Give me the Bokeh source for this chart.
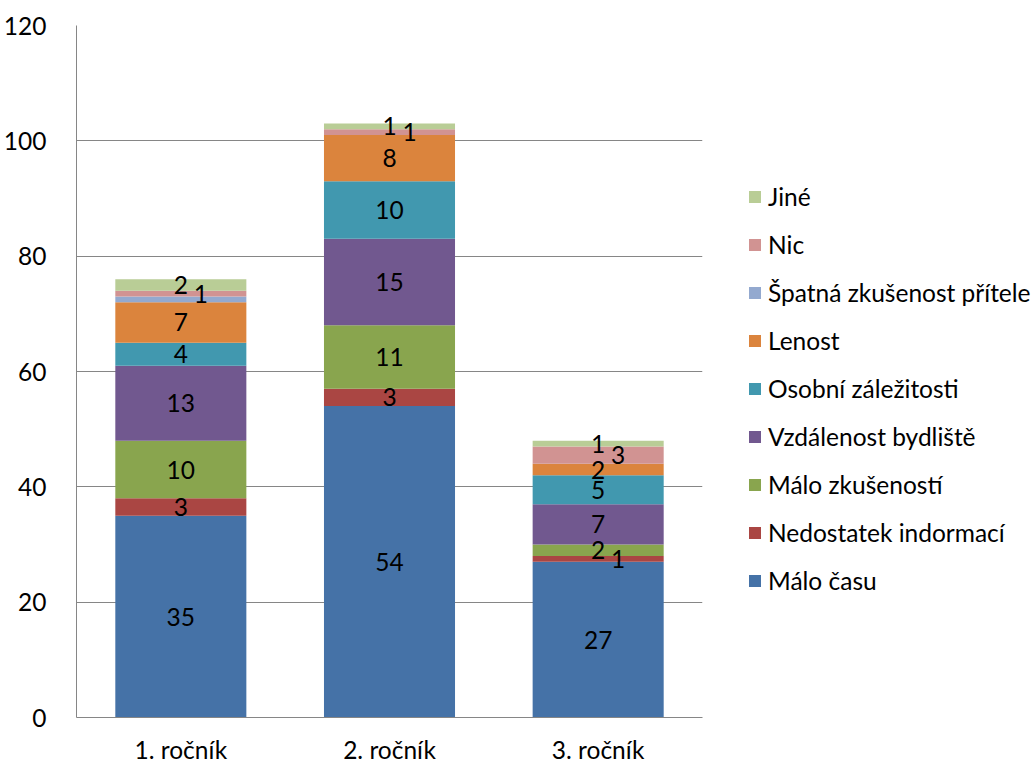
from bokeh.plotting import figure
from bokeh.models import ColumnDataSource, FactorRange, Legend, LegendItem, Range1d, SingleIntervalTicker
from bokeh.core.properties import value
from bokeh.embed import file_html
from bokeh.resources import INLINE

categories = ["1. ročník", "2. ročník", "3. ročník"]
series = ["Málo času", "Nedostatek indormací", "Málo zkušeností", "Vzdálenost bydliště",
          "Osobní záležitosti", "Lenost", "Špatná zkušenost přítele", "Nic", "Jiné"]
malo_casu = [35, 54, 27]
nedostatek = [3, 3, 1]
malo_zkusenosti = [10, 11, 2]
vzdalenost = [13, 15, 7]
osobni = [4, 10, 5]
lenost = [7, 8, 2]
spatna = [1, 0, 0]
nic = [1, 1, 3]
jine = [2, 1, 1]
values = [malo_casu, nedostatek, malo_zkusenosti, vzdalenost, osobni, lenost, spatna, nic, jine]
colors = ["#4572A7", "#AA4643", "#89A54E", "#71588F", "#4198AF", "#DB843D", "#93A9CF", "#D19392", "#B9CD96"]

FONT = "Lato"
FS = "24.5px"
SHIFT = 20        # px offset used to move a colliding label sideways
MIN_GAP = 3.0     # data units between labels before they are considered colliding

data = {"cat": categories}
keys = []
for i, v in enumerate(values):
    k = f"s{i}"
    keys.append(k)
    data[k] = v
src = ColumnDataSource(data)

p = figure(x_range=FactorRange(*categories, range_padding=0), y_range=Range1d(0, 120),
           frame_width=626, frame_height=692, output_backend="svg", toolbar_location=None,
           min_border_left=74, min_border_right=0, min_border_top=25, min_border_bottom=0)
p.outline_line_color = None
p.background_fill_color = "white"

renderers = p.vbar_stack(keys, x="cat", width=0.628, color=colors, line_color=None, source=src)

# data labels, placed top-down with simple collision avoidance
placed = {j: [] for j in range(len(categories))}
lab = {0: ([], [], []), SHIFT: ([], [], [])}
for i in reversed(range(len(values))):
    v = values[i]
    for j, c in enumerate(categories):
        if v[j] <= 0:
            continue
        base = sum(values[k][j] for k in range(i))
        yc = base + v[j] / 2
        for off in (0, SHIFT):
            if all(not (o == off and abs(yy - yc) < MIN_GAP) for yy, o in placed[j]):
                placed[j].append((yc, off))
                lab[off][0].append(c)
                lab[off][1].append(yc)
                lab[off][2].append(str(v[j]))
                break
for off, (xs, ys, ts) in lab.items():
    p.text(x=xs, y=ys, text=ts, text_align="center", text_baseline="middle",
           text_font=value(FONT), text_font_size=FS, text_color="black", x_offset=off)

p.yaxis.ticker = SingleIntervalTicker(interval=20)
p.ygrid.grid_line_color = "#868686"
p.ygrid.grid_line_width = 1
p.xgrid.grid_line_color = None
for ax in (p.xaxis[0], p.yaxis[0]):
    ax.axis_line_color = "#868686"
    ax.major_tick_line_color = None
    ax.minor_tick_line_color = None
    ax.major_tick_out = 0
    ax.major_tick_in = 0
    ax.major_label_text_font = FONT
    ax.major_label_text_font_size = FS
    ax.major_label_text_color = "black"
p.yaxis.major_label_standoff = 26
p.xaxis.major_label_standoff = 17

items = [LegendItem(label=series[i], renderers=[renderers[i]]) for i in reversed(range(len(series)))]
legend = Legend(items=items, location=(45, 122), border_line_color=None, background_fill_alpha=0,
                glyph_width=15, glyph_height=15, label_standoff=6, spacing=19, label_height=24,
                label_text_font=FONT, label_text_font_size=FS, label_text_color="black",
                padding=0, margin=0)
p.add_layout(legend, "right")

open("out.html", "w").write(file_html(p, INLINE))
